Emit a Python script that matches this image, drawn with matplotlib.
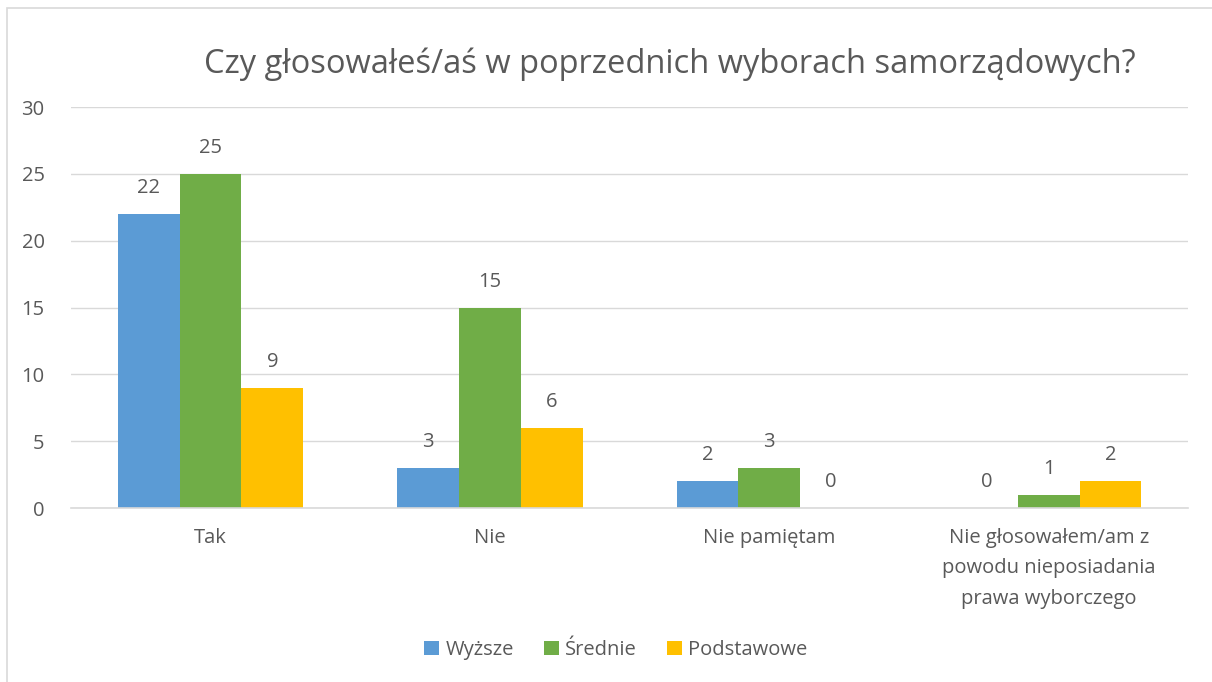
import numpy as np
import matplotlib.pyplot as plt
from matplotlib.patches import Rectangle

# data
categories = ["Tak", "Nie", "Nie pamiętam",
              "Nie głosowałem/am z\npowodu nieposiadania\nprawa wyborczego"]
wyzsze = [22, 3, 2, 0]
srednie = [25, 15, 3, 1]
podstawowe = [9, 6, 0, 2]
series = [("Wyższe", wyzsze, "#5B9BD5"),
          ("Średnie", srednie, "#70AD47"),
          ("Podstawowe", podstawowe, "#FFC000")]

plt.rcParams['font.family'] = ['Open Sans', 'DejaVu Sans']
txt = "#595959"
fs = 14.5

fig = plt.figure(figsize=(12.12, 6.82), dpi=100)
ax = fig.add_axes([0.0585, 0.255, 0.922, 0.588])

# light frame around the chart
fig.patches.append(Rectangle((0.006, -0.01), 1.0, 0.998, transform=fig.transFigure,
                             fill=False, edgecolor="#D9D9D9", linewidth=1.2))

x = np.arange(len(categories))
w = 0.221
for i, (name, vals, col) in enumerate(series):
    pos = x + (i - 1) * w
    ax.bar(pos, vals, width=w, color=col, label=name, zorder=2)
    for p, v in zip(pos, vals):
        ax.text(p, v + 1.95, str(v), ha="center", va="center", fontsize=fs, color=txt)

ax.set_xlim(-0.5, len(categories) - 0.5)
ax.set_ylim(0, 30)
ax.set_yticks(range(0, 31, 5))
ax.yaxis.grid(True, color="#D9D9D9", linewidth=1, zorder=0)
ax.set_axisbelow(True)
for s in ["top", "right", "left"]:
    ax.spines[s].set_visible(False)
ax.spines["bottom"].set_color("#D9D9D9")
ax.spines["bottom"].set_linewidth(1.2)
ax.tick_params(axis="both", length=0, labelsize=fs, colors=txt)
ax.tick_params(axis="y", pad=19)
ax.tick_params(axis="x", pad=14)
ax.set_xticks(x)
ax.set_xticklabels(categories, linespacing=1.7)

fig.text(0.553, 0.906, "Czy głosowałeś/aś w poprzednich wyborach samorządowych?",
         ha="center", va="center", fontsize=23.5, color=txt)

fig.legend(loc="center", bbox_to_anchor=(0.508, 0.047), ncol=3, frameon=False,
           fontsize=fs, labelcolor=txt, handlelength=0.75, handleheight=0.75,
           handletextpad=0.3, columnspacing=1.5)

fig.savefig("out.png", dpi=100)
